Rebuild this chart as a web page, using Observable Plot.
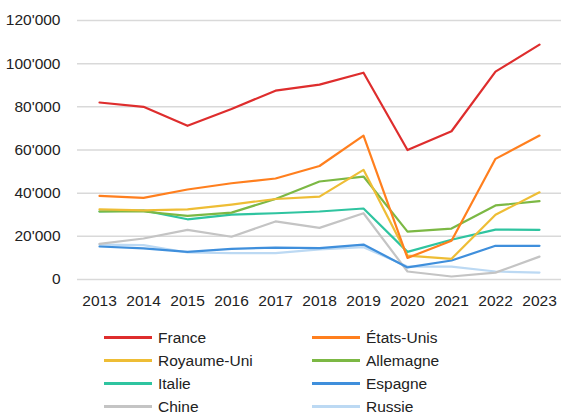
<!DOCTYPE html>
<html>
<head>
<meta charset="utf-8">
<script src="https://cdn.jsdelivr.net/npm/d3@7"></script>
<script src="https://cdn.jsdelivr.net/npm/@observablehq/plot@0.6"></script>
<style>
  body { margin: 0; background: #fff; font-family: "Liberation Sans", Arial, sans-serif; }
  #chart { width: 561px; }
  .legend { position: relative; height: 98px; width: 561px; }
  .item { position: absolute; display: flex; align-items: center; height: 23px; font-size: 15.5px; color: #222; }
  .swatch { width: 48px; height: 3px; margin-right: 6px; }
</style>
</head>
<body>
<div id="chart"></div>
<script>
const years = [2013, 2014, 2015, 2016, 2017, 2018, 2019, 2020, 2021, 2022, 2023];
const countries = ["France", "États-Unis", "Royaume-Uni", "Allemagne", "Italie", "Espagne", "Chine", "Russie"];
const colors = ["#de2d2d", "#ff7f1e", "#eebd35", "#7cb844", "#2fc4a0", "#3f8fdc", "#c4c4c4", "#bcd9f3"];

const france     = [82000, 80000, 71200, 79000, 87500, 90300, 95800, 60000, 68700, 96300, 108800];
const etatsUnis  = [38700, 37800, 41700, 44600, 46800, 52600, 66700, 10000, 18000, 55900, 66700];
const royaumeUni = [32500, 32000, 32500, 34700, 37300, 38400, 50800, 11100, 9600, 30000, 40400];
const allemagne  = [31500, 31500, 29500, 31000, 37300, 45400, 47700, 22200, 23600, 34300, 36300];
const italie     = [31500, 32000, 27900, 30100, 30700, 31500, 32900, 12800, 18400, 23100, 23000];
const espagne    = [15300, 14400, 12800, 14200, 14800, 14500, 16200, 5600, 8800, 15600, 15600];
const chine      = [16500, 19000, 23000, 19800, 26900, 23900, 30700, 3700, 1400, 3200, 10600];
const russie     = [16200, 15900, 12500, 12200, 12200, 14000, 15000, 6000, 6000, 3700, 3200];

const yTicks = [0, 20000, 40000, 60000, 80000, 100000, 120000];

const series = [france, etatsUnis, royaumeUni, allemagne, italie, espagne, chine, russie];
const data = [];
series.forEach((vals, i) => vals.forEach((v, j) => data.push({country: countries[i], year: years[j], value: v})));

const fmt = v => d3.format(",")(v).replace(/,/g, "'");

const plot = Plot.plot({
  width: 561,
  height: 318,
  marginLeft: 77,
  marginRight: 0,
  marginTop: 20,
  marginBottom: 39,
  style: { fontFamily: "Liberation Sans, Arial, sans-serif", fontSize: "15.5px", color: "#222", background: "#fff" },
  x: { domain: [2012.5, 2023.5], axis: null },
  y: { domain: [0, 120000], axis: null },
  color: { domain: countries, range: colors },
  marks: [
    Plot.gridY(yTicks, { stroke: "#d9d9d9", strokeOpacity: 1, strokeWidth: 1.5 }),
    Plot.axisY(yTicks, { tickSize: 0, tickPadding: 17, tickFormat: fmt, fontSize: 15.5, fill: "#222", label: null }),
    Plot.axisX(years, { tickSize: 0, tickPadding: 15, tickFormat: d => String(d), fontSize: 15.5, fill: "#222", label: null }),
    ...countries.slice().reverse().map(c =>
      Plot.line(data.filter(d => d.country === c), { x: "year", y: "value", stroke: colors[countries.indexOf(c)], strokeWidth: 2.2 })
    )
  ]
});
document.getElementById("chart").appendChild(plot);

const legend = document.createElement("div");
legend.className = "legend";
countries.forEach((c, i) => {
  const row = Math.floor(i / 2), col = i % 2;
  const item = document.createElement("div");
  item.className = "item";
  item.style.left = (col === 0 ? 104 : 312) + "px";
  item.style.top = (8 + row * 23) + "px";
  const sw = document.createElement("span");
  sw.className = "swatch";
  sw.style.background = colors[i];
  const t = document.createElement("span");
  t.textContent = c;
  item.appendChild(sw);
  item.appendChild(t);
  legend.appendChild(item);
});
document.body.appendChild(legend);
</script>
</body>
</html>
